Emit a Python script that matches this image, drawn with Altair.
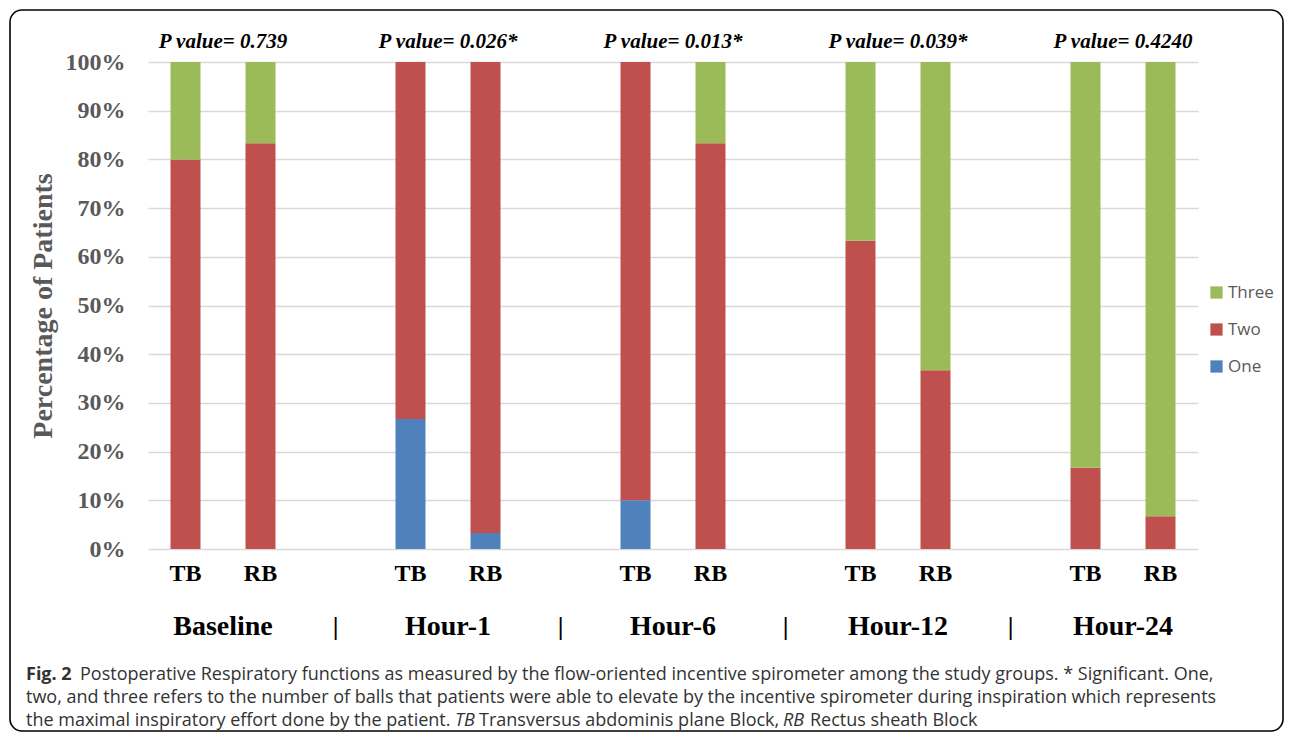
import altair as alt
import pandas as pd

# ---------------- data ----------------
groups = ["Baseline", "Hour-1", "Hour-6", "Hour-12", "Hour-24"]
blocks = ["TB", "RB"]
p_values = ["P value= 0.739", "P value= 0.026*", "P value= 0.013*",
            "P value= 0.039*", "P value= 0.4240"]
levels = ["One", "Two", "Three"]
legend_order = ["Three", "Two", "One"]
level_colors = ["#4F81BD", "#C0504D", "#9BBB59"]
# bar order: Baseline TB, Baseline RB, Hour-1 TB, Hour-1 RB, ...
one_pct = [0, 0, 26.7, 3.3, 10.0, 0, 0, 0, 0, 0]
two_pct = [80.0, 83.3, 73.3, 96.7, 90.0, 83.3, 63.3, 36.7, 16.7, 6.7]
three_pct = [20.0, 16.7, 0, 0, 0, 16.7, 36.7, 63.3, 83.3, 93.3]
y_ticks = [0, 0.1, 0.2, 0.3, 0.4, 0.5, 0.6, 0.7, 0.8, 0.9, 1.0]

cap_fig = "Fig. 2"
cap_line1 = ("Postoperative Respiratory functions as measured by the flow-oriented incentive "
             "spirometer among the study groups. * Significant. One,")
cap_line2 = ("two, and three refers to the number of balls that patients were able to elevate by "
             "the incentive spirometer during inspiration which represents")
cap_line3a = "the maximal inspiratory effort done by the patient."
cap_tb = "TB"
cap_line3b = "Transversus abdominis plane Block,"
cap_rb = "RB"
cap_line3c = "Rectus sheath Block"

# ---------------- tables ----------------
x_domain = []
for i, g in enumerate(groups):
    if i > 0:
        x_domain.append(f"gap{i}")
    for b in blocks:
        x_domain.append(f"{g}|{b}")

series = {"One": one_pct, "Two": two_pct, "Three": three_pct}
rows = []
for i, g in enumerate(groups):
    for j, b in enumerate(blocks):
        idx = 2 * i + j
        for k, lev in enumerate(levels):
            v = series[lev][idx]
            if v > 0:
                rows.append({"key": f"{g}|{b}", "level": lev, "ord": k, "value": v / 100.0})
bars_df = pd.DataFrame(rows)

grp_df = pd.DataFrame({"key": [f"{g}|TB" for g in groups], "group": groups, "p": p_values})
sep_df = pd.DataFrame({"key": [f"gap{i}" for i in range(1, len(groups))], "sep": ["|"] * (len(groups) - 1)})
one_row = pd.DataFrame({"d": [0]})

SERIF = "Liberation Serif"
GRAY = "#595959"

xenc = alt.X(
    "key:N",
    title=None,
    sort=x_domain,
    scale=alt.Scale(domain=x_domain, paddingInner=0.6, paddingOuter=0.3),
    axis=alt.Axis(
        labelExpr="indexof(datum.label, '|') > 0 ? split(datum.label, '|')[1] : ''",
        labelAngle=0, labelFont=SERIF, labelFontSize=24, labelFontWeight="bold",
        labelColor="black", labelPadding=12, ticks=False, domain=False, grid=False,
    ),
)

bars = alt.Chart(bars_df).mark_bar().encode(
    x=xenc,
    y=alt.Y(
        "value:Q", stack="zero",
        scale=alt.Scale(domain=[0, 1], nice=False),
        title="Percentage of Patients",
        axis=alt.Axis(
            values=y_ticks, format=".0%", labelFont=SERIF, labelFontSize=24,
            labelFontWeight="bold", labelColor=GRAY, labelPadding=23, ticks=False,
            domain=False, gridColor="#d9d9d9", gridWidth=1.5,
            titleFont=SERIF, titleFontSize=28, titleFontWeight="bold", titleColor=GRAY,
            titlePadding=8,
        ),
    ),
    color=alt.Color(
        "level:N",
        scale=alt.Scale(domain=levels, range=level_colors),
        legend=alt.Legend(
            title=None, values=legend_order, orient="none", legendX=1060, legendY=222,
            symbolType="square", symbolSize=150, symbolStrokeWidth=0, symbolOpacity=1,
            labelFont="Open Sans", labelFontSize=17, labelColor=GRAY, labelOffset=3,
            rowPadding=19, padding=0,
        ),
    ),
    order=alt.Order("ord:Q", sort="ascending"),
)

pvals = alt.Chart(grp_df).mark_text(
    font=SERIF, fontSize=21, fontWeight="bold", fontStyle="italic", color="black",
    dx=37.5, baseline="middle",
).encode(x=xenc, y=alt.value(-20), text="p:N")

group_labels = alt.Chart(grp_df).mark_text(
    font=SERIF, fontSize=28, fontWeight="bold", color="black", dx=37.5, baseline="middle",
).encode(x=xenc, y=alt.value(565), text="group:N")

seps = alt.Chart(sep_df).mark_text(
    font=SERIF, fontSize=26, fontWeight="bold", color="black", baseline="middle",
).encode(x=xenc, y=alt.value(565), text="sep:N")

frame = alt.Chart(one_row).mark_rect(
    fillOpacity=0, stroke="black", strokeWidth=1.6, cornerRadius=12,
).encode(x=alt.value(-138), x2=alt.value(1135), y=alt.value(-52), y2=alt.value(669))


def cap(text, x, y, weight="normal", style="normal"):
    return alt.Chart(one_row).mark_text(
        align="left", baseline="middle", font="Open Sans", fontSize=18,
        fontWeight=weight, fontStyle=style, color="#333333",
    ).encode(x=alt.value(x), y=alt.value(y), text=alt.value(text))


caps = [
    cap(cap_fig, -122, 613, weight="bold"),
    cap(cap_line1, -68, 613),
    cap(cap_line2, -122, 636),
    cap(cap_line3a, -122, 659),
    cap(cap_tb, 307, 659, style="italic"),
    cap(cap_line3b, 331, 659),
    cap(cap_rb, 635, 659, style="italic"),
    cap(cap_line3c, 662, 659),
]

chart = alt.layer(frame, bars, pvals, group_labels, seps, *caps).properties(
    width=1050, height=487,
    autosize=alt.AutoSizeParams(type="none"),
    padding={"left": 140, "top": 54, "right": 86, "bottom": 183},
    background="white",
).configure_view(stroke=None)

chart.save("out.html", embed_options={"renderer": "svg", "actions": False})
